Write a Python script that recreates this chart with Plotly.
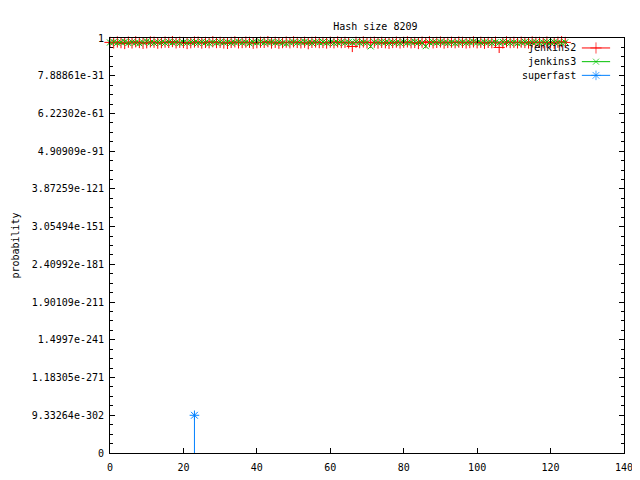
import math
import plotly.graph_objects as go

# ---- data ----
x_vals = list(range(125))

jenkins2 = [
    3.2e-4, 1.1e-4, 6.5e-4, 2.0e-4, 4.1e-5, 5.1e-4, 1.2e-4, 9.0e-4, 2.4e-4, 6.0e-5,
    1.5e-4, 7.3e-4, 4.2e-4, 8.0e-5, 1.9e-4, 5.5e-4, 2.7e-4, 1.3e-3, 1.4e-4, 4.0e-4,
    2.5e-4, 3.8e-5, 1.7e-4, 6.2e-4, 4.8e-4, 9.5e-5, 3.1e-4, 1.6e-4, 1.0e-3, 2.3e-4,
    3.5e-4, 1.1e-4, 5.0e-5, 2.8e-4, 7.9e-4, 1.3e-4, 2.2e-4, 5.0e-4, 3.4e-4, 7.0e-5,
    1.8e-4, 4.6e-4, 2.9e-4, 1.2e-3, 1.0e-4, 3.7e-4, 6.8e-5, 2.1e-4, 5.3e-4, 1.6e-4,
    8.4e-4, 2.6e-4, 1.4e-4, 4.3e-4, 3.0e-5, 3.2e-4, 6.1e-4, 1.9e-4, 2.5e-4, 9.8e-5,
    4.7e-4, 1.5e-4, 7.1e-4, 2.2e-4, 3.6e-4, 1.1e-4, 1.7e-7, 3.9e-4, 2.0e-4, 6.6e-4,
    1.3e-4, 2.9e-4, 4.5e-4, 8.8e-5, 3.3e-4, 1.7e-4, 5.7e-5, 2.4e-4, 5.2e-4, 1.2e-4,
    3.8e-4, 7.5e-4, 1.6e-4, 2.7e-4, 4.0e-5, 4.9e-4, 2.1e-4, 1.0e-3, 1.4e-4, 3.1e-4,
    6.4e-4, 9.2e-5, 2.6e-4, 4.4e-4, 1.8e-4, 5.9e-4, 3.5e-4, 1.2e-4, 2.3e-4, 7.8e-4,
    1.5e-4, 4.1e-4, 6.3e-5, 3.0e-4, 1.9e-4, 5.4e-4, 3.0e-8, 1.1e-4, 8.1e-4, 2.2e-4,
    3.7e-4, 1.3e-4, 4.8e-4, 2.5e-4, 1.0e-4, 6.9e-4, 2.8e-4, 3.2e-4, 1.7e-4, 5.6e-4,
    2.0e-4, 7.2e-5, 4.3e-4, 1.2e-3, 2.9e-4,
]

jenkins3 = [
    2.6e-4, 5.8e-4, 1.4e-4, 3.9e-4, 7.7e-4, 1.0e-4, 4.4e-4, 2.1e-4, 6.1e-5, 3.5e-4,
    1.9e-3, 2.3e-4, 8.5e-5, 5.2e-4, 3.0e-4, 1.2e-4, 6.7e-4, 2.0e-4, 4.1e-4, 9.3e-5,
    3.3e-4, 1.6e-4, 5.4e-4, 2.8e-4, 1.1e-4, 7.0e-4, 2.4e-4, 4.6e-5, 3.7e-4, 1.5e-4,
    6.0e-4, 2.2e-4, 4.0e-4, 1.3e-4, 2.9e-4, 8.9e-4, 1.8e-4, 3.4e-4, 5.6e-5, 4.7e-4,
    2.5e-4, 1.1e-3, 1.5e-4, 3.1e-4, 6.4e-4, 2.0e-4, 4.3e-4, 1.2e-4, 3.6e-5, 2.7e-4,
    5.1e-4, 1.7e-4, 3.8e-4, 7.4e-4, 2.3e-4, 1.0e-4, 4.5e-4, 2.9e-4, 6.6e-4, 1.4e-4,
    3.2e-4, 8.0e-5, 2.1e-4, 5.7e-4, 1.6e-4, 4.2e-4, 2.6e-4, 9.6e-4, 1.3e-4, 3.5e-4,
    2.0e-4, 2.0e-7, 4.9e-4, 1.9e-4, 6.2e-4, 3.0e-4, 1.1e-4, 4.0e-4, 2.4e-4, 7.6e-5,
    5.3e-4, 1.5e-4, 3.3e-4, 8.2e-4, 2.2e-4, 1.2e-4, 3.0e-7, 2.8e-4, 4.6e-4, 1.7e-4,
    6.9e-4, 2.5e-4, 1.0e-4, 3.9e-4, 5.5e-5, 2.1e-4, 4.8e-4, 1.4e-4, 3.4e-4, 1.0e-3,
    2.3e-4, 1.6e-4, 5.0e-4, 2.7e-4, 8.6e-5, 4.1e-4, 1.8e-4, 6.3e-4, 2.9e-4, 1.1e-4,
    3.6e-4, 5.9e-5, 2.2e-4, 7.3e-4, 1.5e-4, 3.1e-4, 4.4e-4, 1.3e-4, 2.6e-4, 5.8e-4,
    1.9e-4, 4.7e-4, 2.4e-4, 9.0e-5, 3.8e-4,
]

superfast_x = [23]
superfast = [9.33264e-302]

y_tick_labels = ["0", "9.33264e-302", "1.18305e-271", "1.4997e-241", "1.90109e-211",
                 "2.40992e-181", "3.05494e-151", "3.87259e-121", "4.90909e-91",
                 "6.22302e-61", "7.88861e-31", "1"]

# ---- layout constants ----
Y_MIN = -1100  # log2 of lowest shown value (underflows to 0)
Y_MAX = 0
RED = "#ff0000"
GREEN = "#00c000"
BLUE = "#0080ff"
FONT = "DejaVu Sans Mono"


def lg(v):
    return math.log2(v)


fig = go.Figure()

fig.add_trace(go.Scatter(
    x=x_vals, y=[lg(v) for v in jenkins2], mode="markers", name="jenkins2",
    showlegend=False, cliponaxis=False,
    marker=dict(symbol="cross-thin-open", size=8, color=RED, line=dict(width=1, color=RED)),
))
fig.add_trace(go.Scatter(
    x=x_vals, y=[lg(v) for v in jenkins3], mode="markers", name="jenkins3",
    showlegend=False, cliponaxis=False,
    marker=dict(symbol="x-thin-open", size=6, color=GREEN, line=dict(width=1, color=GREEN)),
))
# superfast: impulse down to the axis bottom plus marker
for xv, v in zip(superfast_x, superfast):
    fig.add_trace(go.Scatter(
        x=[xv, xv], y=[lg(v), Y_MIN], mode="lines", showlegend=False,
        line=dict(color=BLUE, width=1), hoverinfo="skip",
    ))
fig.add_trace(go.Scatter(
    x=superfast_x, y=[lg(v) for v in superfast], mode="markers", name="superfast",
    showlegend=False,
    marker=dict(symbol="asterisk-open", size=8, color=BLUE, line=dict(width=1, color=BLUE)),
))

# ---- custom gnuplot-style legend (text left, sample right) ----
legend_entries = [("jenkins2", RED, "cross-thin-open", 8),
                  ("jenkins3", GREEN, "x-thin-open", 6),
                  ("superfast", BLUE, "asterisk-open", 8)]
leg_text_x = 0.911
leg_line_x0, leg_line_x1 = 0.918, 0.973
leg_y0, leg_dy = 0.976, 0.033
for i, (name, col, sym, sz) in enumerate(legend_entries):
    yy = leg_y0 - i * leg_dy
    fig.add_annotation(x=leg_text_x, y=yy, xref="paper", yref="paper", text=name,
                       showarrow=False, xanchor="right", yanchor="middle",
                       font=dict(family=FONT, size=10, color="black"))
    fig.add_trace(go.Scatter(
        x=[leg_line_x0, (leg_line_x0 + leg_line_x1) / 2, leg_line_x1], y=[yy, yy, yy],
        xaxis="x2", yaxis="y2", mode="lines+markers", showlegend=False, hoverinfo="skip",
        line=dict(color=col, width=1),
        marker=dict(symbol=sym, size=[0, sz, 0], color=col, line=dict(width=1, color=col)),
    ))

axis_common = dict(showline=True, linecolor="black", linewidth=1, mirror="ticks",
                   ticks="inside", tickcolor="black", showgrid=False, zeroline=False,
                   tickfont=dict(family=FONT, size=10, color="black"))

fig.update_layout(
    width=640, height=480,
    margin=dict(l=102, r=24, t=30, b=35, autoexpand=False),
    paper_bgcolor="white", plot_bgcolor="white",
    title=dict(text="Hash size 8209", x=0.574, xanchor="center", y=0.962, yanchor="middle",
               font=dict(family=FONT, size=10, color="black")),
    xaxis=dict(range=[0, 140], tickvals=list(range(0, 141, 20)), ticklen=5,
               ticklabelstandoff=5, **axis_common),
    yaxis=dict(range=[Y_MIN, Y_MAX], tickvals=list(range(Y_MIN, Y_MAX + 1, 100)),
               ticktext=y_tick_labels, ticklen=5, ticklabelstandoff=3,
               minor=dict(dtick=25, tick0=0, ticks="inside", ticklen=3, tickcolor="black"),
               title=dict(text="probability", standoff=10,
                          font=dict(family=FONT, size=10, color="black")),
               **axis_common),
    xaxis2=dict(overlaying="x", range=[0, 1], visible=False),
    yaxis2=dict(overlaying="y", range=[0, 1], visible=False),
    showlegend=False,
)

fig.write_html("out.html")
